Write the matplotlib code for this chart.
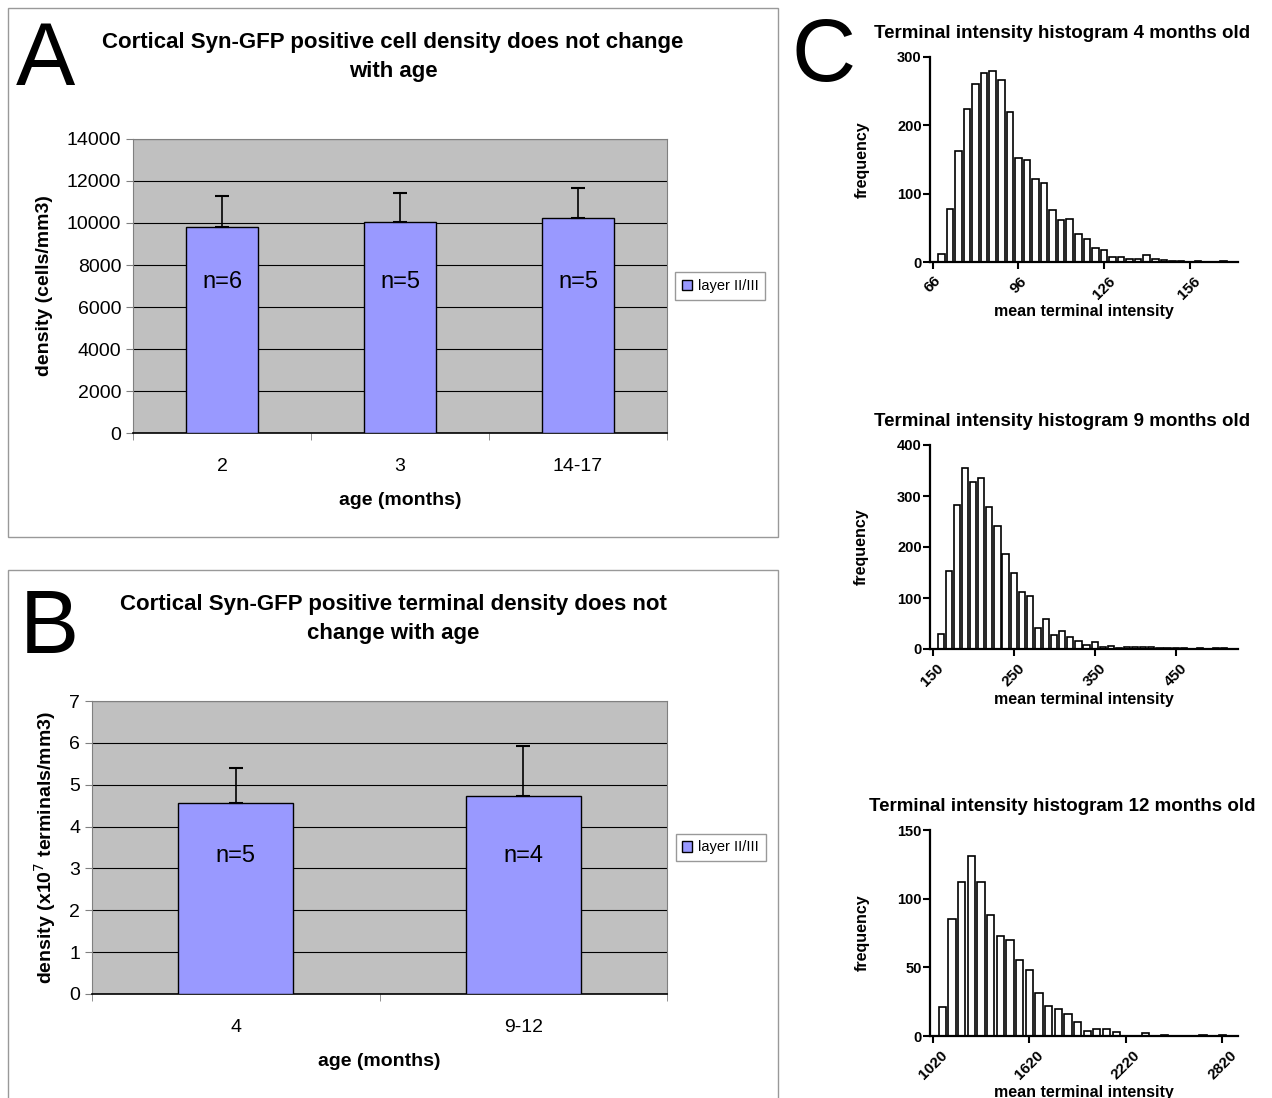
import numpy as np
import matplotlib
matplotlib.use("Agg")
import matplotlib.pyplot as plt
from matplotlib.patches import Rectangle, Patch

plt.rcParams['font.family'] = ['Liberation Sans', 'DejaVu Sans']

# panel A data
ages_a = ["2", "3", "14-17"]
cell_density = [9820, 10050, 10250]
cell_err = [1480, 1400, 1420]
n_a = ["n=6", "n=5", "n=5"]

# panel B data
ages_b = ["4", "9-12"]
term_density = [4.57, 4.74]
term_err = [0.83, 1.18]
n_b = ["n=5", "n=4"]

# panel C histograms (bin centres and counts)
h4_centres = np.arange(69, 172, 3)
h4_counts = [12, 77, 163, 224, 260, 277, 280, 267, 220, 152, 150, 121, 115, 76, 61,
             63, 41, 33, 21, 17, 7, 8, 5, 4, 10, 5, 3, 1, 2, 0, 2, 0, 0, 1, 0]
h9_centres = np.arange(160, 521, 10)
h9_counts = [29, 153, 282, 354, 328, 335, 278, 242, 187, 150, 111, 104, 42, 58, 28,
             35, 24, 16, 8, 14, 3, 5, 1, 3, 4, 4, 3, 1, 1, 1, 1, 0, 1, 0, 1, 1, 0]
h12_centres = np.arange(1080, 2821, 60)
h12_counts = [21, 85, 112, 131, 112, 88, 73, 70, 55, 48, 31, 22, 20, 16, 10, 4, 5, 5,
              3, 0, 0, 2, 0, 1, 0, 0, 0, 1, 0, 1]

W, H = 1272, 1098
fig = plt.figure(figsize=(W / 100, H / 100), dpi=100)


def box(x0, y0, x1, y1):
    return [x0 / W, 1 - y1 / H, (x1 - x0) / W, (y1 - y0) / H]


def fx(x):
    return x / W


def fy(y):
    return 1 - y / H


# panel frames
fig.add_artist(Rectangle((fx(8), fy(537)), 770 / W, 529 / H, transform=fig.transFigure,
                         fill=False, edgecolor="#999999", lw=1))
fig.add_artist(Rectangle((fx(8), fy(1120)), 770 / W, 550 / H, transform=fig.transFigure,
                         fill=False, edgecolor="#999999", lw=1))


def bar_panel(ax, cats, vals, errs, labels, ymax, step, label_y, ylabel):
    xs = np.arange(len(cats))
    ax.set_facecolor("#C0C0C0")
    ax.bar(xs, vals, width=0.41 if len(cats) == 3 else 0.4, color="#9999FF",
           edgecolor="black", lw=1, zorder=3)
    ax.errorbar(xs, vals, yerr=[np.zeros(len(errs)), errs], fmt="none", ecolor="black",
                elinewidth=1.2, capsize=5, capthick=1.5, zorder=4)
    for x, t in zip(xs, labels):
        ax.text(x, label_y, t, ha="center", va="center", fontsize=17, zorder=5)
    ax.set_xlim(-0.5, len(cats) - 0.5)
    ax.set_ylim(0, ymax)
    ax.set_yticks(np.arange(0, ymax + step / 2, step))
    ax.yaxis.grid(True, color="black", lw=0.8, zorder=1)
    ax.set_axisbelow(True)
    ax.set_xticks(xs)
    ax.set_xticklabels(cats, fontsize=14)
    ax.set_xticks(np.arange(-0.5, len(cats)), minor=True)
    ax.tick_params(axis="x", which="major", length=0, pad=18)
    ax.tick_params(axis="x", which="minor", length=5, direction="out", color="#808080")
    ax.tick_params(axis="y", labelsize=14, length=5, direction="out", color="#808080")
    for s in ["top", "right"]:
        ax.spines[s].set_color("#808080")
    ax.spines["left"].set_color("#808080")
    ax.spines["bottom"].set_color("black")
    ax.spines["bottom"].set_linewidth(1.2)
    ax.set_xlabel("age (months)", fontsize=14, fontweight="bold", labelpad=12)
    ax.set_ylabel(ylabel, fontsize=14, fontweight="bold")
    ax.legend(handles=[Patch(facecolor="#9999FF", edgecolor="black", label="layer II/III")],
              loc="center left", bbox_to_anchor=(1.015, 0.5), fontsize=10.5, fancybox=False,
              edgecolor="#808080", handlelength=0.7, handleheight=0.7, handletextpad=0.4,
              borderpad=0.45, borderaxespad=0)


ax_a = fig.add_axes(box(133, 139, 667, 433))
bar_panel(ax_a, ages_a, cell_density, cell_err, n_a, 14000, 2000, 7200, "density (cells/mm3)")
ax_a.yaxis.set_label_coords(-0.15, 0.5)
fig.text(fx(393), fy(57), "Cortical Syn-GFP positive cell density does not change\nwith age",
         ha="center", va="center", fontsize=16, fontweight="bold", linespacing=1.5)
fig.text(fx(16), fy(62), "A", ha="left", va="center", fontsize=64)

ax_b = fig.add_axes(box(92, 701, 667, 994))
bar_panel(ax_b, ages_b, term_density, term_err, n_b, 7, 1, 3.3,
          "density (x10$^7$ terminals/mm3)")
ax_b.yaxis.set_label_coords(-0.06, 0.5)
fig.text(fx(393), fy(619), "Cortical Syn-GFP positive terminal density does not\nchange with age",
         ha="center", va="center", fontsize=16, fontweight="bold", linespacing=1.5)
fig.text(fx(20), fy(630), "B", ha="left", va="center", fontsize=64)

fig.text(fx(792), fy(58), "C", ha="left", va="center", fontsize=64)


def hist_panel(rect, centres, counts, width, xlim, ymax, ystep, xticks, title):
    ax = fig.add_axes(rect)
    ax.bar(centres, counts, width=width, color="white", edgecolor="black", lw=1.2)
    ax.set_xlim(*xlim)
    ax.set_ylim(0, ymax)
    ax.set_yticks(np.arange(0, ymax + 1, ystep))
    ax.set_xticks(xticks)
    ax.set_xticklabels([str(t) for t in xticks], rotation=45, fontsize=11, fontweight="bold")
    for lab in ax.get_yticklabels():
        lab.set_fontweight("bold")
    ax.tick_params(axis="y", labelsize=10.5, width=1.5, length=5, pad=1)
    ax.tick_params(axis="x", width=1.5, length=5)
    for s in ["top", "right"]:
        ax.spines[s].set_visible(False)
    for s in ["left", "bottom"]:
        ax.spines[s].set_linewidth(1.6)
    ax.set_ylabel("frequency", fontsize=11.5, fontweight="bold", labelpad=20)
    ax.set_xlabel("mean terminal intensity", fontsize=11.5, fontweight="bold", labelpad=2)
    ax.set_title(title, fontsize=13.5, fontweight="bold", pad=14, x=0.43)
    return ax


hist_panel(box(930, 57, 1238, 262), h4_centres, h4_counts, 2.3, (65, 173), 300, 100,
           [66, 96, 126, 156], "Terminal intensity histogram 4 months old")
hist_panel(box(930, 445, 1238, 649), h9_centres, h9_counts, 7.6, (146.7, 527), 400, 100,
           [150, 250, 350, 450], "Terminal intensity histogram 9 months old")
hist_panel(box(930, 830, 1238, 1036), h12_centres, h12_counts, 45, (1003, 2917), 150, 50,
           [1020, 1620, 2220, 2820], "Terminal intensity histogram 12 months old")

fig.savefig("out.png", dpi=100)
